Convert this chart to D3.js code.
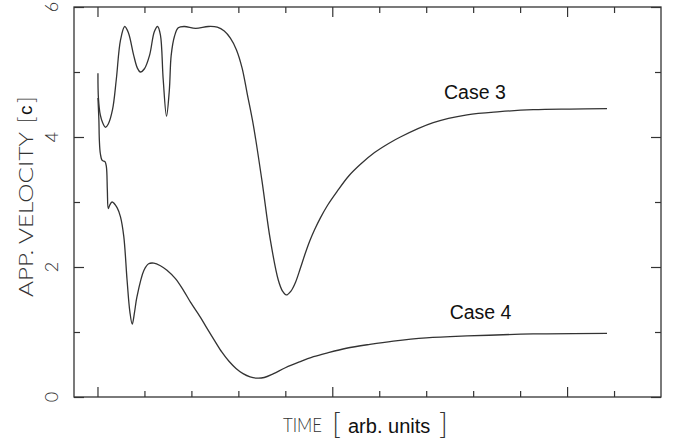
<!DOCTYPE html>
<html>
<head>
<meta charset="utf-8">
<script src="https://cdn.jsdelivr.net/npm/d3@7"></script>
<style>
  body { margin: 0; background: #fff; }
  .thin { font-family: "Lato", "Roboto", "DejaVu Sans", sans-serif; font-weight: 300; fill: #333; }
  .helv { font-family: "Liberation Sans", Arial, Helvetica, sans-serif; fill: #111; }
</style>
</head>
<body>
<script>
const w = 673;
const h = 439;

// * DATA
const case3Time = [0.01, 0.02, 0.06, 0.11, 0.17, 0.23, 0.32, 0.40, 0.49, 0.58,
	0.66, 0.77, 0.85, 0.91, 1.00, 1.11, 1.21, 1.28, 1.34, 1.40,
	1.47, 1.53, 1.57, 1.64, 1.72, 1.85, 2.09, 2.36, 2.55, 2.70,
	2.83, 2.96, 3.08, 3.19, 3.32, 3.50, 3.68, 3.85, 3.94, 4.02,
	4.12, 4.22, 4.32, 4.42, 4.52, 4.62, 4.75, 4.90, 5.10, 5.35,
	5.60, 5.90, 6.20, 6.45, 7.15, 7.87, 8.57, 9.28, 10.06, 10.85];
const case3Velocity = [4.98, 4.60, 4.34, 4.22, 4.15, 4.20, 4.42, 4.88, 5.49, 5.70,
	5.60, 5.26, 5.06, 5.00, 5.05, 5.26, 5.62, 5.70, 5.57, 4.88,
	4.32, 4.72, 5.26, 5.55, 5.68, 5.70, 5.67, 5.70, 5.69, 5.63,
	5.52, 5.34, 5.06, 4.66, 4.18, 3.34, 2.42, 1.80, 1.63, 1.57,
	1.63, 1.77, 1.98, 2.20, 2.40, 2.57, 2.76, 2.95, 3.16, 3.40,
	3.58, 3.76, 3.90, 4.00, 4.22, 4.34, 4.39, 4.42, 4.43, 4.435];

const case4Time = [0.01, 0.03, 0.04, 0.06, 0.10, 0.16, 0.19, 0.21, 0.23, 0.26,
	0.31, 0.42, 0.49, 0.56, 0.63, 0.69, 0.74, 0.79, 0.84, 0.99,
	1.09, 1.20, 1.34, 1.48, 1.66, 1.84, 1.98, 2.19, 2.33, 2.50,
	2.65, 2.80, 2.95, 3.10, 3.25, 3.40, 3.55, 3.75, 4.00, 4.30,
	4.60, 4.90, 5.30, 5.80, 6.30, 7.00, 7.87, 9.28, 10.85];
const case4Velocity = [4.60, 4.26, 3.95, 3.75, 3.64, 3.62, 3.54, 3.18, 2.90, 2.95,
	3.00, 2.91, 2.77, 2.47, 1.80, 1.31, 1.12, 1.31, 1.54, 1.95,
	2.05, 2.06, 2.02, 1.95, 1.82, 1.63, 1.46, 1.23, 1.06, 0.86,
	0.69, 0.55, 0.44, 0.36, 0.31, 0.29, 0.30, 0.36, 0.45, 0.54,
	0.62, 0.68, 0.75, 0.81, 0.86, 0.91, 0.94, 0.97, 0.98];

const yMajorTicks = [0, 2, 4, 6];
const yMinorTicks = [1, 3, 5];
const xMajorTicks = [0, 5, 10];
const xMinorTicks = [1, 2, 3, 4, 6, 7, 8, 9, 11];
const yTickLabels = ["0", "2", "4", "6"];
const seriesNames = ["Case 3", "Case 4"];

// * SVG BASE SETUP
const svg = d3.select("body").append("svg")
	.attr("width", w)
	.attr("height", h);

const plotLeft = 74, plotRight = 661, plotTop = 7, plotBottom = 397;

// * SCALES
const xScale = d3.scaleLinear().domain([-0.5, 12]).range([plotLeft, plotRight]);
const yScale = d3.scaleLinear().domain([0, 6]).range([plotBottom, plotTop]);

// * TICKS (inward, on all four sides)
function tickAxis(axisFn, scale, values, size, transform) {
	const g = svg.append("g")
		.attr("transform", transform)
		.call(axisFn(scale).tickValues(values).tickSize(-size).tickFormat(""));
	g.select(".domain").remove();
	g.selectAll("line").attr("stroke", "#333").attr("stroke-width", 1.2);
}
tickAxis(d3.axisLeft, yScale, yMajorTicks, 10, `translate(${plotLeft},0)`);
tickAxis(d3.axisLeft, yScale, yMinorTicks, 6, `translate(${plotLeft},0)`);
tickAxis(d3.axisRight, yScale, yMajorTicks, 10, `translate(${plotRight},0)`);
tickAxis(d3.axisRight, yScale, yMinorTicks, 6, `translate(${plotRight},0)`);
tickAxis(d3.axisBottom, xScale, xMajorTicks, 10, `translate(0,${plotBottom})`);
tickAxis(d3.axisBottom, xScale, xMinorTicks, 6, `translate(0,${plotBottom})`);
tickAxis(d3.axisTop, xScale, xMajorTicks, 10, `translate(0,${plotTop})`);
tickAxis(d3.axisTop, xScale, xMinorTicks, 6, `translate(0,${plotTop})`);

// frame
svg.append("rect")
	.attr("x", plotLeft).attr("y", plotTop)
	.attr("width", plotRight - plotLeft).attr("height", plotBottom - plotTop)
	.attr("fill", "none").attr("stroke", "#333").attr("stroke-width", 1.3);

// * Y TICK LABELS (rotated)
yMajorTicks.forEach((v, i) => {
	svg.append("text")
		.attr("class", "thin")
		.attr("transform", `translate(58,${yScale(v)}) rotate(-90)`)
		.attr("text-anchor", "middle")
		.attr("font-size", 18)
		.text(yTickLabels[i]);
});

// * AXIS TITLES
const yTitle = svg.append("g").attr("transform", "translate(33,0) rotate(-90)");
yTitle.append("text").attr("class", "thin")
	.attr("x", -297).attr("y", 0)
	.attr("font-size", 20)
	.attr("textLength", 165).attr("lengthAdjust", "spacingAndGlyphs")
	.text("APP. VELOCITY");
yTitle.append("text").attr("class", "thin")
	.attr("x", -123).attr("y", 1).attr("font-size", 22).text("[");
yTitle.append("text").attr("class", "helv")
	.attr("x", -115).attr("y", -1).attr("font-size", 19).text("c");
yTitle.append("text").attr("class", "thin")
	.attr("x", -103).attr("y", 1).attr("font-size", 22).text("]");

const xTitle = svg.append("g");
xTitle.append("text").attr("class", "thin")
	.attr("x", 283).attr("y", 432)
	.attr("font-size", 20)
	.attr("textLength", 39).attr("lengthAdjust", "spacingAndGlyphs")
	.text("TIME");
xTitle.append("text").attr("class", "thin")
	.attr("x", 332).attr("y", 434).attr("font-size", 30).text("[");
xTitle.append("text").attr("class", "helv")
	.attr("x", 348).attr("y", 433).attr("font-size", 20).text("arb. units");
xTitle.append("text").attr("class", "thin")
	.attr("x", 439).attr("y", 434).attr("font-size", 30).text("]");

// * CURVES
const line = d3.line()
	.x((d) => xScale(d[0]))
	.y((d) => yScale(d[1]))
	.curve(d3.curveCatmullRom.alpha(0.5));

const series = [
	d3.zip(case3Time, case3Velocity),
	d3.zip(case4Time, case4Velocity),
];
svg.selectAll("path.curve")
	.data(series)
	.enter()
	.append("path")
	.attr("class", "curve")
	.attr("d", line)
	.attr("fill", "none")
	.attr("stroke", "#333")
	.attr("stroke-width", 1.3);

// * CURVE LABELS
const labelPos = [[7.38, 4.58], [7.5, 1.2]];
seriesNames.forEach((name, i) => {
	svg.append("text")
		.attr("class", "helv")
		.attr("x", xScale(labelPos[i][0]))
		.attr("y", yScale(labelPos[i][1]))
		.attr("font-size", 19.5)
		.text(name);
});
</script>
</body>
</html>
